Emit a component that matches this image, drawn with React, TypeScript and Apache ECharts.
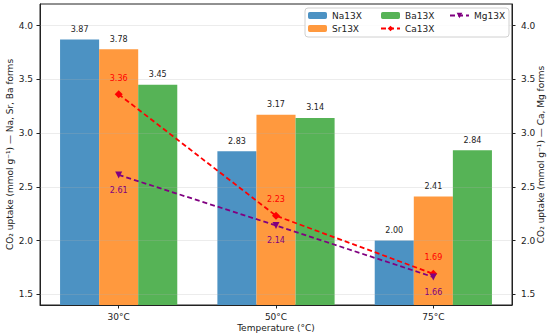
import React, { useEffect, useRef } from "react";
import * as echarts from "echarts";

const categories = ["30°C", "50°C", "75°C"];
const na13x = [3.87, 2.83, 2.0];
const sr13x = [3.78, 3.17, 2.41];
const ba13x = [3.45, 3.14, 2.84];
const ca13x = [3.36, 2.23, 1.69];
const mg13x = [2.61, 2.14, 1.66];
const yTicks = [1.5, 2.0, 2.5, 3.0, 3.5, 4.0];
const yMin = 1.4;
const yMax = 4.2;

const FONT = "DejaVu Sans";

export default function App() {
  const ref = useRef<HTMLDivElement>(null);
  useEffect(() => {
    if (!ref.current) return;
    const chart = echarts.init(ref.current, null, { renderer: "svg" });
    const txt = { fontFamily: FONT, color: "#222" };
    const yAxisBase = (pos: "left" | "right", name: string, gap: number, margin: number) => ({
      type: "value",
      position: pos,
      min: yMin,
      max: yMax,
      name,
      nameLocation: "middle",
      nameGap: gap,
      nameMoveOverlap: false,
      nameTextStyle: { ...txt, fontSize: 9 },
      axisLine: { show: true, lineStyle: { color: "#222", width: 1 } },
      axisTick: { show: true, length: 3.5, customValues: yTicks, lineStyle: { color: "#222" } },
      axisLabel: {
        ...txt,
        fontSize: 9,
        margin,
        customValues: yTicks,
        formatter: (v: number) => v.toFixed(1),
      },
      splitLine: { show: false },
    });
    const barSeries = (name: string, data: number[], color: string) => ({
      name,
      type: "bar",
      data,
      barGap: "0%",
      barCategoryGap: "25.5%",
      itemStyle: { color },
      z: 2,
      label: {
        show: true,
        position: "top",
        distance: 6,
        fontFamily: FONT,
        fontSize: 8,
        color: "#222",
        formatter: (p: any) => Number(p.value).toFixed(2),
      },
    });
    const legendText = { fontFamily: FONT, fontSize: 9, color: "#222" };
    const legendCommon = {
      orient: "vertical",
      top: 11,
      padding: 0,
      itemWidth: 19,
      itemHeight: 7,
      itemGap: 4,
      textStyle: legendText,
      selectedMode: false,
    };
    chart.setOption({
      animation: false,
      grid: {
        left: 40,
        right: 38,
        top: 4,
        bottom: 31,
        containLabel: false,
        outerBoundsMode: "none",
        show: true,
        borderColor: "#222",
        borderWidth: 1,
        backgroundColor: "transparent",
      },
      graphic: [
        {
          type: "rect",
          shape: { x: 305, y: 8, width: 204, height: 29, r: 3 },
          style: { fill: "rgba(255,255,255,0.85)", stroke: "#d0d0d0", lineWidth: 1 },
          z: 10,
        },
      ],
      legend: [
        { ...legendCommon, left: 308, data: ["Na13X", "Sr13X"], z: 11 },
        { ...legendCommon, left: 380, data: ["Ba13X", "Ca13X"], z: 11 },
        { ...legendCommon, left: 449, data: ["Mg13X"], z: 11 },
      ],
      xAxis: {
        type: "category",
        data: categories,
        name: "Temperature (°C)",
        nameLocation: "middle",
        nameGap: 18,
        nameMoveOverlap: false,
        nameTextStyle: { ...txt, fontSize: 9 },
        axisLine: { lineStyle: { color: "#222" } },
        axisTick: { show: true, alignWithLabel: true, length: 3.5, lineStyle: { color: "#222" } },
        axisLabel: { ...txt, fontSize: 9, margin: 7 },
      },
      yAxis: [
        yAxisBase("left", "CO₂ uptake (mmol g⁻¹) — Na, Sr, Ba forms", 26, 7),
        yAxisBase("right", "CO₂ uptake (mmol g⁻¹) — Ca, Mg forms", 24, 9),
      ],
      series: [
        {
          name: "grid",
          type: "line",
          data: [],
          z: 3,
          silent: true,
          markLine: {
            silent: true,
            symbol: "none",
            label: { show: false },
            lineStyle: { color: "rgba(176,176,176,0.3)", width: 0.8, type: "solid" },
            data: yTicks.map((v) => ({ yAxis: v })),
          },
        },
        barSeries("Na13X", na13x, "#4c92c3"),
        barSeries("Sr13X", sr13x, "#ff993e"),
        barSeries("Ba13X", ba13x, "#56b356"),
        {
          name: "Ca13X",
          type: "line",
          yAxisIndex: 1,
          data: ca13x,
          z: 5,
          symbol: "diamond",
          symbolSize: 8,
          itemStyle: { color: "#ff0000" },
          lineStyle: { color: "#ff0000", width: 1.8, type: [5, 3] },
          label: {
            show: true,
            position: "top",
            distance: 8,
            fontFamily: FONT,
            fontSize: 8,
            color: "#ff0000",
            formatter: (p: any) => Number(p.value).toFixed(2),
          },
        },
        {
          name: "Mg13X",
          type: "line",
          yAxisIndex: 1,
          data: mg13x,
          z: 5,
          symbol: "triangle",
          symbolRotate: 180,
          symbolSize: 7,
          itemStyle: { color: "#800080" },
          lineStyle: { color: "#800080", width: 1.8, type: [5, 3] },
          label: {
            show: true,
            position: "bottom",
            distance: 8,
            fontFamily: FONT,
            fontSize: 8,
            color: "#800080",
            formatter: (p: any) => Number(p.value).toFixed(2),
          },
        },
      ],
    });
    return () => chart.dispose();
  }, []);
  return (
    <div
      ref={ref}
      style={{ position: "absolute", left: 0, top: 0, width: 550, height: 336, background: "#fff" }}
    />
  );
}
